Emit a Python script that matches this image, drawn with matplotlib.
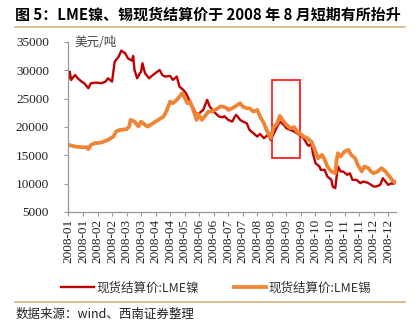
import numpy as np
import matplotlib
matplotlib.use("Agg")
import matplotlib.pyplot as plt
from matplotlib.lines import Line2D
from matplotlib.patches import Rectangle

plt.rcParams["font.family"] = ["Noto Sans CJK SC", "DejaVu Sans"]

# LME spot settlement, USD/t, indexed by trading day of 2008
ni_day = [0, 1, 2, 5, 7, 10, 12, 15, 17, 21, 25, 28, 30, 33, 35, 38, 40, 43, 45, 48,
          49, 50, 52, 54, 55, 56, 58, 61, 64, 69, 71, 73, 77, 79, 82, 84, 87, 89, 92, 94,
          97, 99, 102, 105, 107, 110, 114, 117, 118, 121, 124, 126, 127, 130, 132, 135, 137, 140, 143, 145,
          148, 151, 153, 155, 158, 160, 163, 165, 168, 171, 173, 175, 178, 181, 182, 184, 185, 187, 190, 191,
          194, 196, 199, 200, 202, 203, 204, 206, 208, 211, 213, 215, 218, 221, 223, 226, 228, 231, 233, 236,
          238, 240, 242, 245, 246, 248]
ni = [28600, 29770, 28300, 29180, 28590, 28000, 27710, 26830, 27710, 27830, 27710, 28000, 28590, 28000, 31530, 32410, 33470, 33000, 32120, 31710,
      32530, 30060, 28590, 29470, 29770, 31240, 29470, 28590, 29180, 30060, 29180, 28890, 29000, 28300, 28890, 27120, 26530, 25950, 24480, 23590,
      22120, 22420, 23000, 24770, 23590, 22710, 21830, 21710, 21900, 21240, 20950, 21830, 22120, 21240, 20950, 20650, 19480, 18890, 18300, 18770,
      18010, 18600, 17710, 18600, 20070, 20950, 20360, 19770, 19480, 19180, 18890, 18600, 18010, 16830, 16650, 17125, 15360, 13600, 13010, 12420,
      12420, 11245, 10660, 9480, 9190, 11245, 13010, 12130, 12130, 11540, 11830, 10660, 10660, 10070, 10360, 10190, 9950, 9480, 9480, 9775,
      10950, 10360, 9775, 10070, 9950, 10360]

sn_day = [0, 5, 10, 14, 15, 17, 20, 25, 30, 34, 36, 39, 44, 46, 47, 50, 53, 55, 58, 60,
          64, 68, 72, 74, 77, 79, 82, 86, 87, 90, 92, 94, 97, 98, 101, 103, 106, 108, 111, 115,
          117, 120, 121, 124, 126, 130, 132, 135, 137, 140, 143, 145, 148, 150, 153, 155, 158, 160, 163, 165,
          168, 171, 173, 175, 178, 181, 182, 184, 186, 189, 192, 194, 196, 199, 202, 203, 204, 206, 209, 212,
          214, 217, 219, 222, 224, 227, 229, 231, 234, 237, 240, 242, 245, 247]
sn = [16830, 16540, 16420, 16420, 16070, 16830, 17125, 17240, 17710, 18300, 19180, 19480, 19600, 20070, 21240, 20950, 20070, 20950, 20360, 20070,
      20650, 21240, 21830, 22710, 24480, 24180, 24770, 25950, 25650, 24180, 24480, 23300, 21240, 22300, 21240, 21830, 22710, 22710, 23000, 23590,
      23590, 23300, 23000, 23300, 23590, 24180, 23590, 23300, 23300, 22710, 23000, 21830, 20650, 19480, 18010, 19770, 20650, 21950, 20950, 20360,
      19770, 19950, 19180, 18890, 18300, 18010, 17710, 17420, 16240, 14480, 15070, 14190, 13010, 12130, 11830, 14190, 15360, 14770, 15660, 15950,
      15070, 14480, 13300, 12130, 13010, 12720, 12130, 11830, 12130, 12720, 12130, 11540, 10660, 10190]

tick_labels = ["2008-01", "2008-01", "2008-02", "2008-02", "2008-03", "2008-03",
               "2008-04", "2008-04", "2008-05", "2008-06", "2008-06", "2008-07",
               "2008-07", "2008-08", "2008-08", "2008-09", "2008-09", "2008-10",
               "2008-10", "2008-11", "2008-11", "2008-12", "2008-12"]
tick_step = 11

# August rebound window (trading days, USD/t)
box_days = (154, 175)
box_vals = (14500, 28200)

fig = plt.figure(figsize=(4.2, 3.28), dpi=100)
ax = fig.add_axes([0.163, 0.354, 0.780, 0.518])

ax.plot(ni_day, ni, color="#C00000", lw=1.7, label="现货结算价:LME镍")
ax.plot(sn_day, sn, color="#EE8434", lw=2.7, label="现货结算价:LME锡")
ax.add_patch(Rectangle((box_days[0], box_vals[0]), box_days[1] - box_days[0],
                       box_vals[1] - box_vals[0], fill=False, ec="#FF2020", lw=1.3))

ax.set_xlim(0, 248)
ax.set_ylim(5000, 35000)
ax.set_yticks(range(5000, 35001, 5000))
ax.set_xticks([i * tick_step for i in range(len(tick_labels))])
ax.set_xticklabels(tick_labels, rotation=90)
for lab in ax.get_xticklabels() + ax.get_yticklabels():
    lab.set_family("Liberation Serif")
    lab.set_fontsize(9.5)
    lab.set_color("#222222")
ax.tick_params(axis="y", length=3, pad=11, color="#999999")
ax.tick_params(axis="x", length=3, pad=2, color="#999999")
for s in ("top", "right"):
    ax.spines[s].set_visible(False)
for s in ("left", "bottom"):
    ax.spines[s].set_color("#999999")
    ax.spines[s].set_linewidth(0.9)

ax.text(0.018, 0.995, "美元/吨", transform=ax.transAxes, fontsize=9,
        color="#444444", va="center", ha="left")

fig.text(0.036, 0.954, "图 5：LME镍、锡现货结算价于 2008 年 8 月短期有所抬升",
         fontsize=10.8, fontweight="bold", va="center", ha="left")
fig.add_artist(Line2D([0.036, 0.964], [0.918, 0.918], color="#D3B17D", lw=1.2))

leg = fig.legend(loc="center", bbox_to_anchor=(0.515, 0.122), ncol=2, frameon=False,
                 fontsize=9, handlelength=2.6, handletextpad=0.2, columnspacing=2.8)
for t in leg.get_texts():
    t.set_color("#333333")

fig.add_artist(Line2D([0.036, 0.964], [0.078, 0.078], color="#D3B17D", lw=1.2))
fig.text(0.036, 0.042, "数据来源：wind、西南证券整理", fontsize=9, va="center",
         ha="left", color="#222222")

fig.savefig("out.png", dpi=100)
